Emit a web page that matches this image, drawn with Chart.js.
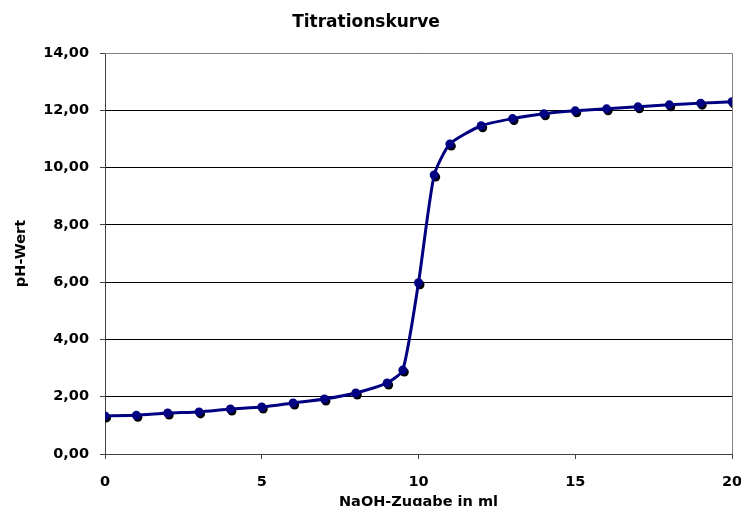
<!DOCTYPE html>
<html>
<head>
<meta charset="utf-8">
<script src="https://cdn.jsdelivr.net/npm/chart.js@4"></script>
<style>
html,body{margin:0;padding:0;background:#fff;}
#wrap{width:741px;height:506px;position:relative;}
</style>
</head>
<body>
<div id="wrap"><canvas id="c" width="741" height="506"></canvas></div>
<script>
const chartTitle = "Titrationskurve";
const xTitle = "NaOH-Zugabe in ml";
const yTitle = "pH-Wert";
const volumes = [0,1,2,3,4,5,6,7,8,9,9.5,10,10.5,11,12,13,14,15,16,17,18,19,20];
const phValues = [1.33,1.35,1.43,1.47,1.57,1.64,1.78,1.92,2.13,2.48,2.93,5.98,9.74,10.82,11.46,11.71,11.88,11.98,12.05,12.12,12.19,12.25,12.30];
const xTicks = [0,5,10,15,20];
const yTicks = [0,2,4,6,8,10,12,14];

const points = volumes.map((v,i)=>({x:v,y:phValues[i]}));
const FONT = "'DejaVu Sans', Arial, sans-serif";

const shadowPlugin = {
  id:'shadow',
  beforeDatasetDraw(chart,args){
    if(args.index===1){
      const ctx=chart.ctx; ctx.save();
      ctx.shadowColor='rgba(0,0,0,1)'; ctx.shadowOffsetX=1.5; ctx.shadowOffsetY=2; ctx.shadowBlur=0;
    }
  },
  afterDatasetDraw(chart,args){
    if(args.index===1){ chart.ctx.restore(); }
  }
};

const framePlugin = {
  id:'frame',
  beforeDatasetsDraw(chart){
    const {ctx, chartArea:a} = chart;
    ctx.save();
    ctx.strokeStyle='#808080'; ctx.lineWidth=1;
    ctx.beginPath();
    ctx.moveTo(a.left, a.top+0.5); ctx.lineTo(a.right+0.5, a.top+0.5);
    ctx.lineTo(a.right+0.5, a.bottom);
    ctx.stroke();
    ctx.restore();
  }
};

new Chart(document.getElementById('c'), {
  type:'scatter',
  data:{
    datasets:[
      {data:points, showLine:true, borderColor:'#000080', borderWidth:3, pointRadius:0,
       tension:0.2, fill:false},
      {data:points, showLine:false, pointRadius:4.5, pointBackgroundColor:'#000080',
       pointBorderColor:'#000080', pointBorderWidth:0}
    ]
  },
  options:{
    responsive:false, animation:false, devicePixelRatio:1,
    layout:{padding:{left:0,right:9,top:0,bottom:0}},
    plugins:{
      legend:{display:false}, tooltip:{enabled:false},
      title:{display:true, text:chartTitle, color:'#000',
        font:{family:FONT, size:17, weight:'bold'}, padding:{top:12,bottom:20.6}}
    },
    scales:{
      x:{type:'linear', min:0, max:20,
        afterBuildTicks(s){ s.ticks = xTicks.map(v=>({value:v})); },
        afterFit(s){ s.height = 52; s.paddingRight = 0; s.paddingLeft = 0; },
        grid:{drawOnChartArea:false, drawTicks:true, tickLength:5, tickColor:'#404040'},
        border:{display:true, color:'#404040', width:1},
        ticks:{color:'#000', padding:15, maxRotation:0, font:{family:FONT, size:14.5, weight:'bold'}},
        title:{display:true, text:xTitle, color:'#000', padding:{top:0,bottom:-5},
          font:{family:FONT, size:14.5, weight:'bold'}}
      },
      y:{type:'linear', min:0, max:14,
        afterBuildTicks(s){ s.ticks = yTicks.map(v=>({value:v})); },
        afterFit(s){ s.width = 105; },
        grid:{drawOnChartArea:true, color:'#000', lineWidth:1, drawTicks:true, tickLength:5, tickColor:'#404040'},
        border:{display:true, color:'#404040', width:1},
        ticks:{color:'#000', padding:11, font:{family:FONT, size:14.5, weight:'bold'},
          callback:v=>v.toFixed(2).replace('.',',')},
        title:{display:true, text:yTitle, color:'#000', padding:{top:13,bottom:0},
          font:{family:FONT, size:14.5, weight:'bold'}}
      }
    }
  },
  plugins:[framePlugin, shadowPlugin]
});
</script>
</body>
</html>
